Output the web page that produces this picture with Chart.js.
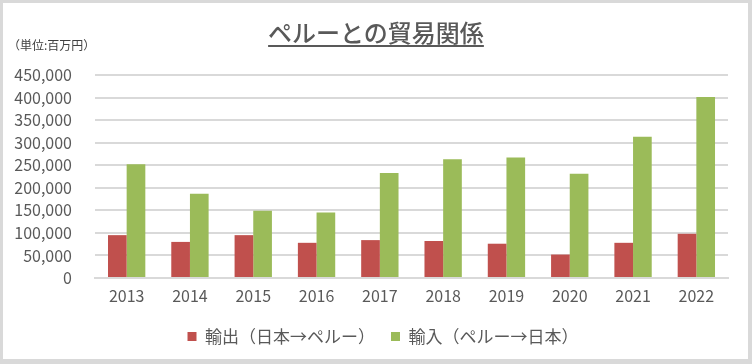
<!DOCTYPE html>
<html>
<head>
<meta charset="utf-8">
<script src="https://cdn.jsdelivr.net/npm/chart.js@4"></script>
<style>
  html, body { margin: 0; padding: 0; }
  body { width: 752px; height: 364px; background: #d9d9d9; position: relative; overflow: hidden; font-family: "Noto Sans CJK JP", sans-serif; }
  #frame { position: absolute; left: 3px; top: 3px; width: 745px; height: 356px; background: #ffffff; }
  #wrap { position: absolute; left: 0; top: 0; width: 752px; height: 364px; }
  #title { position: absolute; left: 0; width: 752px; top: 14px; text-align: center; font-size: 24px; font-weight: 500; color: #595959; text-decoration: underline; text-underline-offset: 3px; }
  #unit { position: absolute; left: 8px; top: 36px; font-size: 12px; color: #404040; }
</style>
</head>
<body>
<div id="frame"></div>
<div id="wrap"><canvas id="tradeChart" width="752" height="364"></canvas></div>
<div id="title">ペルーとの貿易関係</div>
<div id="unit">（単位:百万円）</div>
<script>
const years = ['2013', '2014', '2015', '2016', '2017', '2018', '2019', '2020', '2021', '2022'];
const exports = [95000, 80000, 95000, 78000, 84000, 82000, 76000, 52000, 78000, 98000];
const imports = [252000, 187000, 149000, 145000, 233000, 263000, 267000, 231000, 313000, 401000];
const seriesNames = ['輸出（日本→ペルー）', '輸入（ペルー→日本）'];

const textColor = '#595959';
const gridColor = '#d9d9d9';
const fontFamily = '"Noto Sans CJK JP", sans-serif';

// legend in the original sits a bit right of centre
const legendShift = {
    id: 'legendShift',
    afterLayout(chart) {
        if (!chart.legend) return;
        chart.legend.left += 19;
        chart.legend.right += 19;
    }
};

new Chart(document.getElementById('tradeChart').getContext('2d'), {
    type: 'bar',
    data: {
        labels: years,
        datasets: [
            { label: seriesNames[0], data: exports, backgroundColor: '#c0504d', barPercentage: 1, categoryPercentage: 0.59 },
            { label: seriesNames[1], data: imports, backgroundColor: '#9bbb59', barPercentage: 1, categoryPercentage: 0.59 }
        ]
    },
    plugins: [legendShift],
    options: {
        responsive: false,
        animation: false,
        layout: { padding: { top: 75, right: 24, bottom: 9, left: 0 } },
        scales: {
            x: {
                grid: { display: false, drawTicks: false },
                border: { color: gridColor, width: 2 },
                ticks: { color: textColor, font: { family: fontFamily, size: 16 }, padding: 8 },
                afterFit: scale => { scale.height = 34; }
            },
            y: {
                min: 0,
                max: 450000,
                grid: { color: gridColor, lineWidth: 2, drawTicks: false },
                border: { display: false },
                ticks: {
                    stepSize: 50000,
                    autoSkip: false,
                    color: textColor,
                    font: { family: fontFamily, size: 16 },
                    padding: 23,
                    callback: v => v.toLocaleString('en-US')
                },
                afterFit: scale => { scale.width = 95; }
            }
        },
        plugins: {
            legend: {
                position: 'bottom',
                labels: {
                    color: textColor,
                    font: { family: fontFamily, size: 17 },
                    boxWidth: 9,
                    boxHeight: 9,
                    padding: 16
                }
            },
            tooltip: { enabled: false }
        }
    }
});
</script>
</body>
</html>
